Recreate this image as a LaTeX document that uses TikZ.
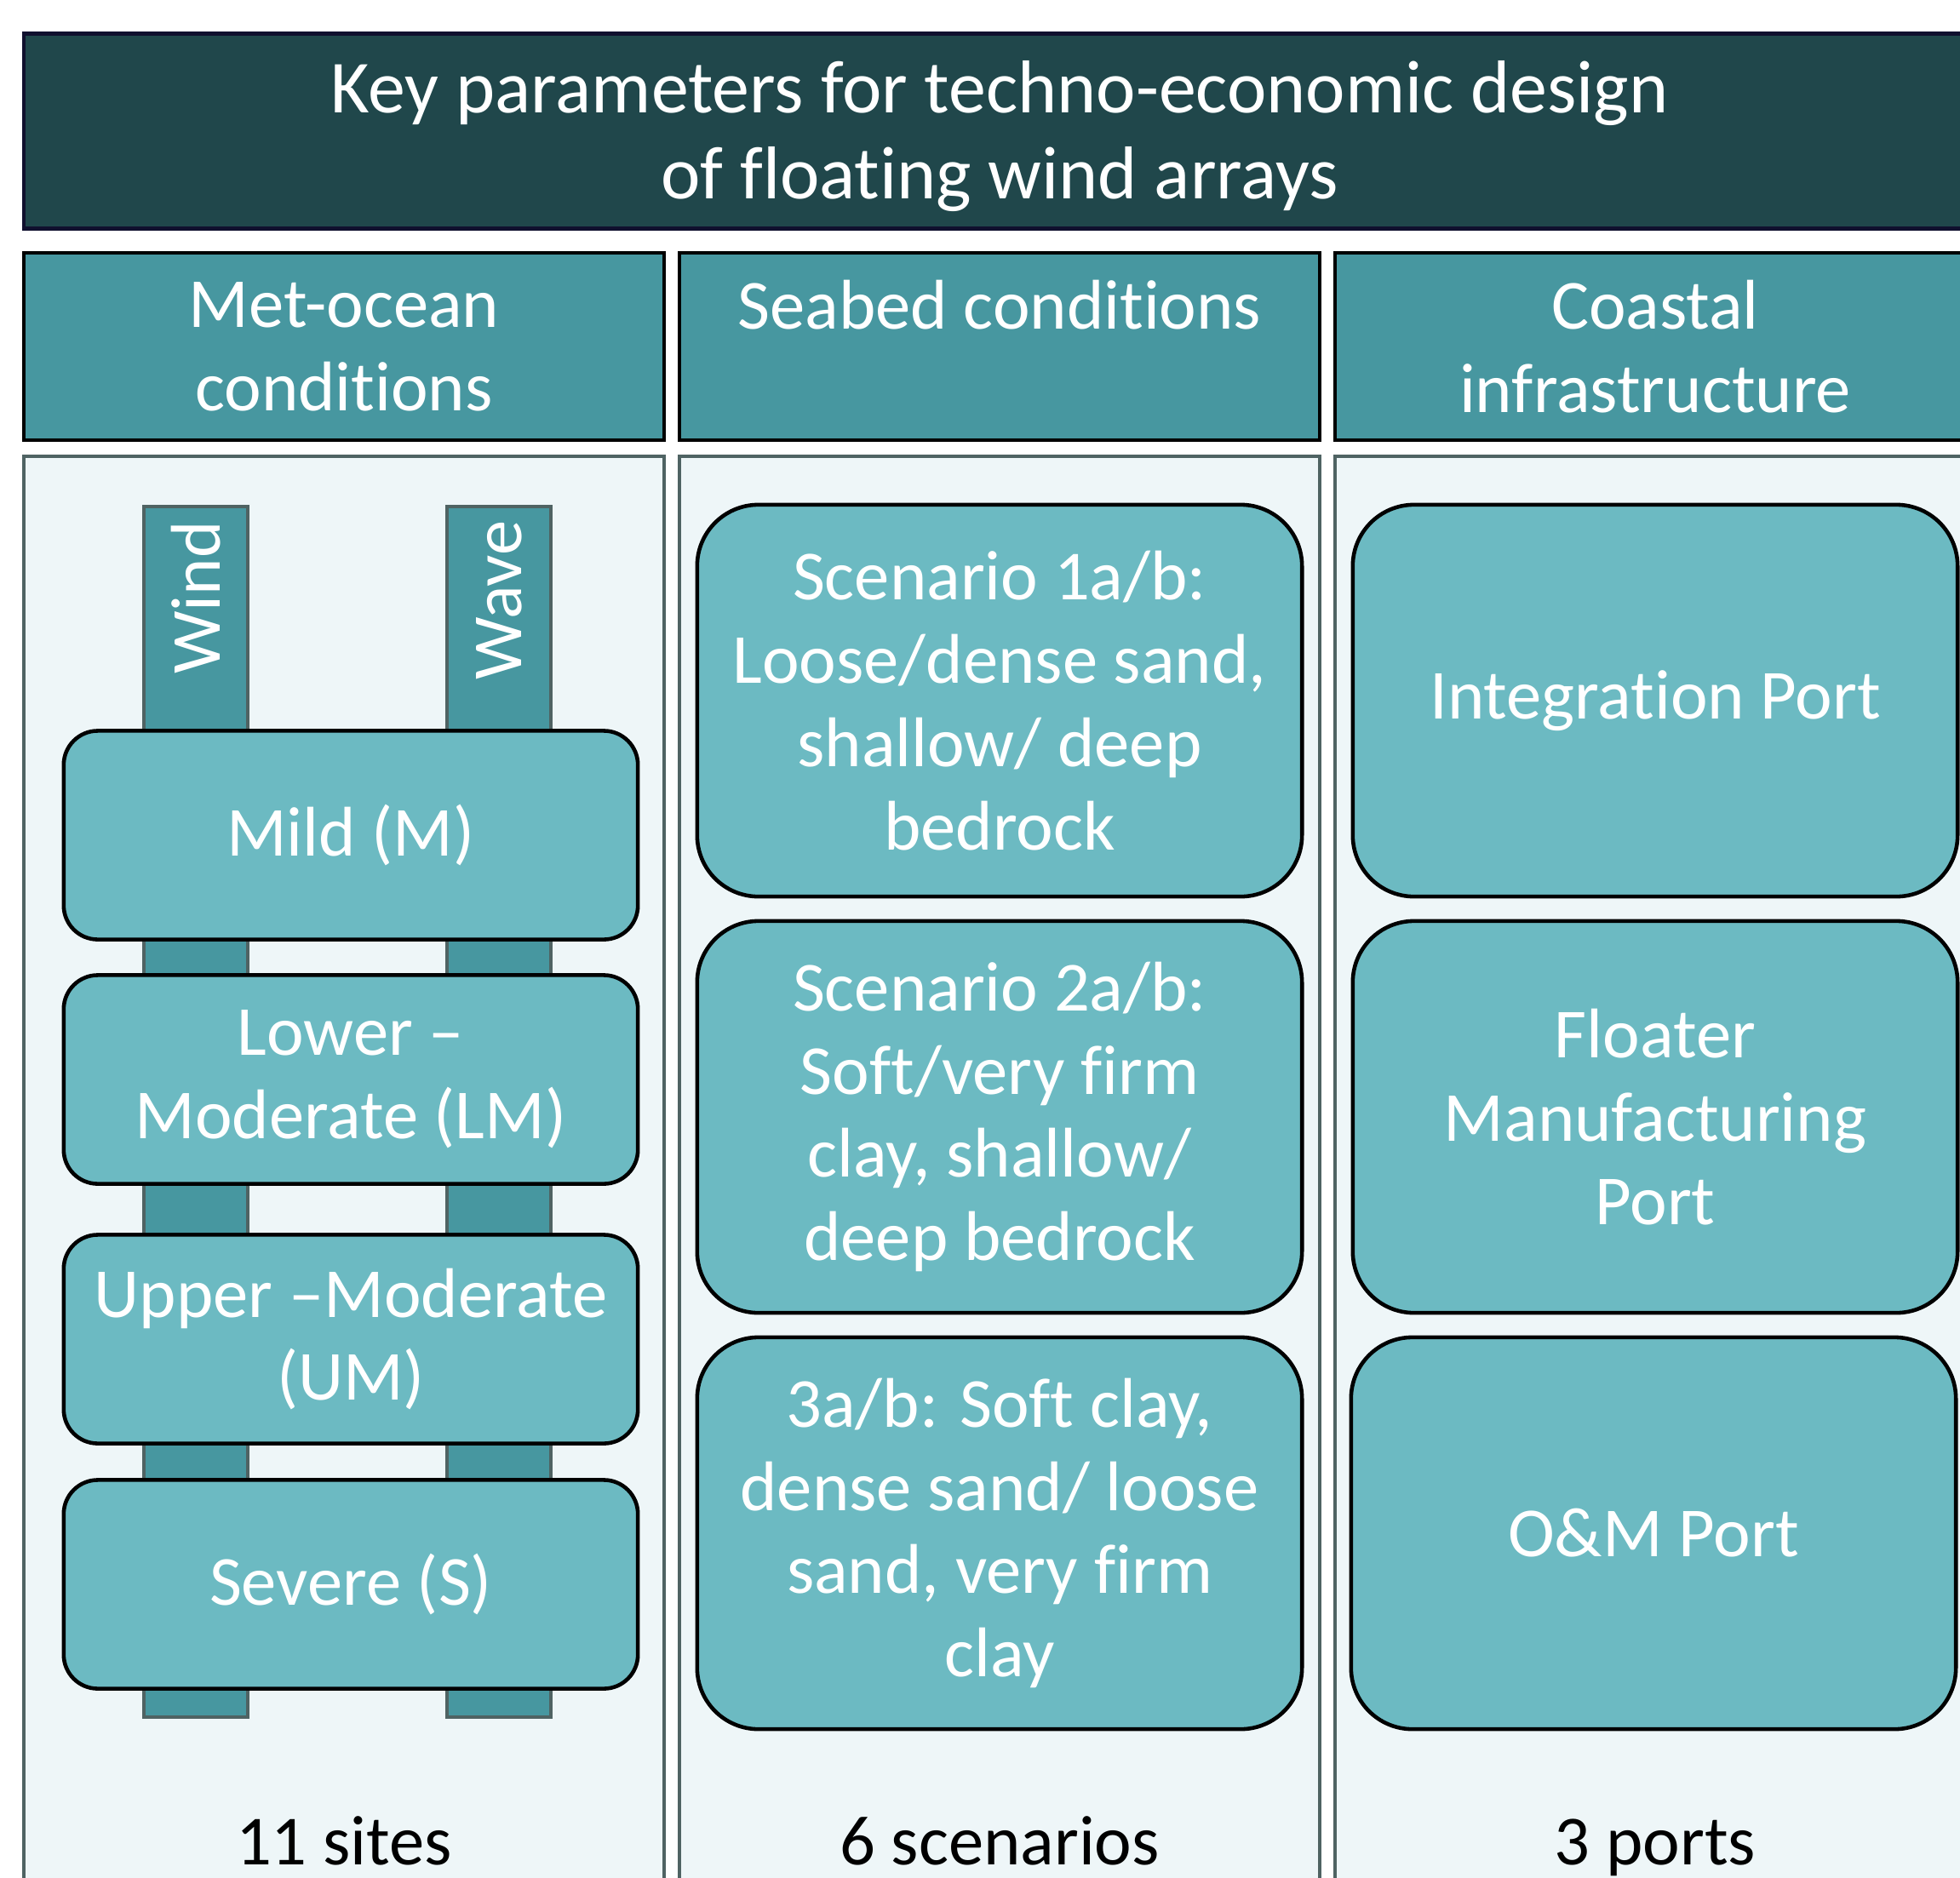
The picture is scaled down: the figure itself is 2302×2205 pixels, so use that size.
\documentclass[tikz,border=0pt]{standalone}
\usepackage{fontspec}
\setmainfont{Carlito}[Ligatures=NoCommon]
\definecolor{titlebg}{HTML}{20474B}
\definecolor{titleline}{HTML}{10102E}
\definecolor{headbg}{HTML}{4797A0}
\definecolor{panelbg}{HTML}{EEF6F8}
\definecolor{panelline}{HTML}{4F6363}
\definecolor{boxbg}{HTML}{6CBAC2}
\tikzset{
  titlebox/.style={draw=titleline, line width=1.2pt, fill=titlebg,
    minimum width=22.9cm, minimum height=2.29cm},
  titletext/.style={text=white, align=center, font=\fontsize{25}{28.7}\selectfont},
  colhead/.style={draw=black, line width=1.2pt, fill=headbg, text=white, align=center,
    minimum width=7.51cm, minimum height=2.2cm, font=\fontsize{23.5}{27.8}\selectfont},
  colpanel/.style={draw=panelline, line width=1.1pt, fill=panelbg, anchor=north,
    minimum width=7.51cm, minimum height=17cm},
  metbar/.style={draw=panelline, line width=1.1pt, fill=headbg, anchor=north,
    minimum width=1.22cm, minimum height=14.21cm},
  barlabel/.style={text=white, rotate=90, font=\fontsize{23.5}{27.8}\selectfont},
  levelbox/.style={draw=black, line width=1.3pt, fill=boxbg, rounded corners=0.4cm, text=white,
    align=center, minimum width=6.74cm, minimum height=2.45cm, font=\fontsize{23.5}{27.8}\selectfont},
  itembox/.style={draw=black, line width=1.3pt, fill=boxbg, rounded corners=0.72cm, text=white,
    align=center, minimum width=7.1cm, minimum height=4.6cm, font=\fontsize{23.5}{27.8}\selectfont},
  countlabel/.style={anchor=base, font=\fontsize{23.5}{27.8}\selectfont}
}
\begin{document}
\begin{tikzpicture}[x=0.01cm, y=-0.01cm]
\useasboundingbox (0,0) rectangle (2302,2205);
\clip (0,0) rectangle (2302,2205);

% heading
\node[titlebox] (title) at (1174,154) {};
\node[titletext] (titlelabel) at (1174,160) {Key parameters for techno-economic design\\of floating wind arrays};

% three columns
\node[colhead] (methead) at (404,407) {Met-ocean\\conditions};
\node[colhead] (seahead) at (1174,407) {Seabed conditions\\\phantom{x}};
\node[colhead] (coasthead) at (1944,407) {Coastal\\infrastructure};
\foreach \cx/\nm in {404/met, 1174/sea, 1944/coast}
    \node[colpanel] (\nm panel) at (\cx,534) {};

% wind and wave bars behind the levels
\node[metbar] (windbar) at (230,593) {};
\node[metbar] (wavebar) at (586,593) {};
\node[barlabel] (wind) at (230,702) {Wind};
\node[barlabel] (wave) at (586,705) {Wave};

\node[levelbox] (mild) at (412,981) {Mild (M)};
\node[levelbox] (lowmod) at (412,1268) {Lower --\\Moderate (LM)};
\node[levelbox] (upmod) at (412,1573) {Upper --Moderate\\(UM)};
\node[levelbox] (severe) at (412,1861) {Severe (S)};

% seabed scenarios
\node[itembox] (scen1) at (1174,823) {Scenario 1a/b:\\Loose/dense sand,\\shallow/ deep\\bedrock};
\node[itembox] (scen2) at (1174,1312) {Scenario 2a/b:\\Soft/very firm\\clay, shallow/\\deep bedrock};
\node[itembox] (scen3) at (1174,1801) {3a/b: Soft clay,\\dense sand/ loose\\sand, very firm\\clay};

% ports
\node[itembox] (intport) at (1944,823) {Integration Port};
\node[itembox] (floatport) at (1944,1312) {Floater\\Manufacturing\\Port};
\node[itembox] (omport) at (1942,1801) {O\&M Port};

% totals
\node[countlabel] (sites) at (404,2190) {11 sites};
\node[countlabel] (scens) at (1174,2190) {6 scenarios};
\node[countlabel] (ports) at (1944,2190) {3 ports};
\end{tikzpicture}
\end{document}
